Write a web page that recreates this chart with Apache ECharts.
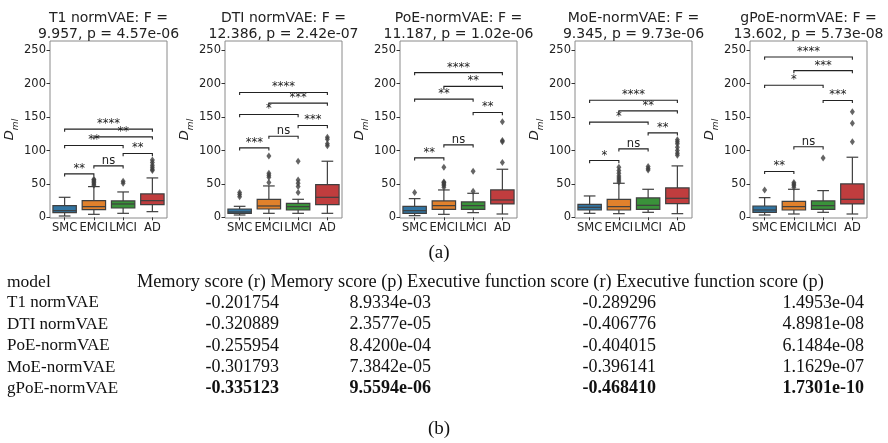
<!DOCTYPE html>
<html><head><meta charset="utf-8">
<script src="https://cdn.jsdelivr.net/npm/echarts@6/dist/echarts.min.js"></script>
<style>html,body{margin:0;padding:0;background:#fff}#c{width:888px;height:443px}</style>
</head><body><div id="c"></div>
<script>
// ---------- data ----------
const categories = ['SMC', 'EMCI', 'LMCI', 'AD'];
const yTicks = [0, 50, 100, 150, 200, 250];
const panelTitles = [
  'T1 normVAE: F =\n9.957, p = 4.57e-06',
  'DTI normVAE: F =\n12.386, p = 2.42e-07',
  'PoE-normVAE: F =\n11.187, p = 1.02e-06',
  'MoE-normVAE: F =\n9.345, p = 9.73e-06',
  'gPoE-normVAE: F =\n13.602, p = 5.73e-08'
];
// box stats per group: [whisker low, Q1, median, Q3, whisker high]
const boxT1   = [[2, 7, 10, 17.5, 30], [4.5, 11.5, 16, 25, 46], [6, 14, 20, 24.5, 38], [8.5, 19, 25, 35, 59]];
const boxDTI  = [[3.5, 6, 8, 12.5, 16.5], [6, 12.5, 17, 27, 47], [6, 11, 16, 21, 27], [6, 19, 30, 49, 84]];
const boxPoE  = [[2.5, 6, 10, 16.5, 28], [4.5, 12, 17.5, 24.5, 41], [7, 12, 17.5, 23, 36], [5, 20, 26, 41, 72]];
const boxMoE  = [[6, 11, 15, 19.5, 32], [5.5, 11, 16, 27, 51], [7.5, 12, 18, 29, 42], [5.5, 20.5, 28.5, 44, 77]];
const boxGPoE = [[3.5, 7.5, 11, 17, 29.5], [5, 11, 16, 24, 42], [7.5, 12, 17.5, 24.5, 40], [5, 20, 27, 50, 90]];
// outliers per group
const outT1   = [[], [48, 50, 52, 54, 56, 57], [51, 54], [70, 72, 75, 78, 82, 86]];
const outDTI  = [[31, 34, 37], [52, 60, 63, 66, 92], [37, 46, 51, 56, 84], [107, 110, 117, 120]];
const outPoE  = [[37], [45, 48, 50, 52, 53, 75], [39, 69], [82, 113, 115, 143]];
const outMoE  = [[], [53, 56, 59, 62, 66, 70, 75], [71, 73, 76], [93, 96, 100, 105, 110, 113, 116]];
const outGPoE = [[41], [45, 48, 50, 52], [89], [113, 141, 158]];
// significance brackets (pairs of group indices), heights and labels
const bracketPairs = [[0, 1], [1, 2], [2, 3], [0, 2], [1, 3], [0, 3]];
const brT1   = [65, 77, 95.6, 107.6, 120.5, 132];
const brDTI  = [104, 121.5, 137.5, 154, 171, 187];
const brPoE  = [89, 108.5, 157, 177, 196, 216.6];
const brMoE  = [85, 102.5, 126.5, 142.5, 159.4, 175.3];
const brGPoE = [68.7, 105.6, 175, 197.7, 219.6, 240];
const sigT1   = ['**', 'ns', '**', '**', '**', '****'];
const sigDTI  = ['***', 'ns', '***', '*', '***', '****'];
const sigPoE  = ['**', 'ns', '**', '**', '**', '****'];
const sigMoE  = ['*', 'ns', '**', '*', '**', '****'];
const sigGPoE = ['**', 'ns', '***', '*', '***', '****'];
// table (b)
const tableHeader = ['model', 'Memory score (r)', 'Memory score (p)', 'Executive function score (r)', 'Executive function score (p)'];
const models = ['T1 normVAE', 'DTI normVAE', 'PoE-normVAE', 'MoE-normVAE', 'gPoE-normVAE'];
const memR  = ['-0.201754', '-0.320889', '-0.255954', '-0.301793', '-0.335123'];
const memP  = ['8.9334e-03', '2.3577e-05', '8.4200e-04', '7.3842e-05', '9.5594e-06'];
const execR = ['-0.289296', '-0.406776', '-0.404015', '-0.396141', '-0.468410'];
const execP = ['1.4953e-04', '4.8981e-08', '6.1484e-08', '1.1629e-07', '1.7301e-10'];
const boldRow = 4;
const captions = ['(a)', '(b)'];

// ---------- chart ----------
const boxSets = [boxT1, boxDTI, boxPoE, boxMoE, boxGPoE];
const outSets = [outT1, outDTI, outPoE, outMoE, outGPoE];
const brSets = [brT1, brDTI, brPoE, brMoE, brGPoE];
const sigSets = [sigT1, sigDTI, sigPoE, sigMoE, sigGPoE];
const groupColors = ['#3274a1', '#e1812c', '#3a923a', '#c03d3e'];
const lineGray = '#3f3f3f';
const SANS = 'DejaVu Sans';
const SERIF = 'Liberation Serif';

const gridLefts = [50, 225, 400, 575, 750];
const gridW = 117, gridTop = 41, gridH = 177;

const grids = [], xAxes = [], yAxes = [], series = [], graphics = [];

function renderBox(params, api) {
  const c = api.value(0);
  const lo = api.value(1), q1 = api.value(2), md = api.value(3), q3 = api.value(4), hi = api.value(5);
  const band = api.size([1, 0])[0];
  const w = band * 0.8, cw = band * 0.4;
  const pLo = api.coord([c, lo]), pQ1 = api.coord([c, q1]), pMd = api.coord([c, md]),
        pQ3 = api.coord([c, q3]), pHi = api.coord([c, hi]);
  const x = pQ1[0];
  const st = { stroke: lineGray, lineWidth: 1.2, fill: null };
  return {
    type: 'group', children: [
      { type: 'line', shape: { x1: x, y1: pQ1[1], x2: x, y2: pLo[1] }, style: st },
      { type: 'line', shape: { x1: x, y1: pQ3[1], x2: x, y2: pHi[1] }, style: st },
      { type: 'line', shape: { x1: x - cw / 2, y1: pLo[1], x2: x + cw / 2, y2: pLo[1] }, style: st },
      { type: 'line', shape: { x1: x - cw / 2, y1: pHi[1], x2: x + cw / 2, y2: pHi[1] }, style: st },
      { type: 'rect', shape: { x: x - w / 2, y: pQ3[1], width: w, height: pQ1[1] - pQ3[1] },
        style: { fill: groupColors[c], stroke: lineGray, lineWidth: 1.2 } },
      { type: 'line', shape: { x1: x - w / 2, y1: pMd[1], x2: x + w / 2, y2: pMd[1] }, style: st }
    ]
  };
}

function makeBracketRenderer(labels) {
  return function (params, api) {
    const i = api.value(0), j = api.value(1), h = api.value(2), k = api.value(3);
    const p1 = api.coord([i, h]), p2 = api.coord([j, h]);
    const d = api.coord([i, h - 4])[1] - p1[1];
    return {
      type: 'group', children: [
        { type: 'polyline', shape: { points: [[p1[0], p1[1] + d], [p1[0], p1[1]], [p2[0], p2[1]], [p2[0], p2[1] + d]] },
          style: { stroke: '#222', lineWidth: 1.1, fill: null } },
        { type: 'text', style: { x: (p1[0] + p2[0]) / 2, y: p1[1] + 1, text: labels[k],
          align: 'center', verticalAlign: 'bottom', textAlign: 'center', textVerticalAlign: 'bottom',
          fontSize: 11.5, fontFamily: SANS, fill: '#222' } }
      ]
    };
  };
}

for (let p = 0; p < 5; p++) {
  grids.push({ left: gridLefts[p], top: gridTop, width: gridW, height: gridH,
    show: true, borderColor: '#8a8a8a', borderWidth: 1, backgroundColor: 'transparent' });
  xAxes.push({ type: 'category', gridIndex: p, data: categories, boundaryGap: true,
    axisLine: { show: false }, splitLine: { show: false },
    axisTick: { show: true, alignWithLabel: true, length: 3, lineStyle: { color: '#333' } },
    axisLabel: { interval: 0, hideOverlap: false, margin: 4, fontFamily: SANS, fontSize: 11.5, color: '#222' } });
  yAxes.push({ type: 'value', gridIndex: p, min: -1, max: 264,
    name: '{d|D}{s|ml}', nameLocation: 'middle', nameGap: 25, nameRotate: 90,
    nameTextStyle: { rich: {
      d: { fontFamily: SANS, fontStyle: 'italic', fontSize: 13, color: '#222', padding: [0, 0, 4, 0] },
      s: { fontFamily: SANS, fontStyle: 'italic', fontSize: 9, color: '#222', verticalAlign: 'bottom' } } },
    axisLine: { show: false }, splitLine: { show: false },
    axisTick: { show: true, length: 3.5, customValues: yTicks, lineStyle: { color: '#333' } },
    axisLabel: { customValues: yTicks, margin: 4, fontFamily: SANS, fontSize: 11.5, color: '#222' } });

  series.push({ type: 'custom', xAxisIndex: p, yAxisIndex: p, renderItem: renderBox,
    encode: { x: 0, y: [1, 2, 3, 4, 5] }, silent: true, z: 3,
    data: boxSets[p].map((b, c) => [c].concat(b)) });

  const outData = [];
  outSets[p].forEach((arr, c) => arr.forEach(v => outData.push([c, v])));
  series.push({ type: 'scatter', xAxisIndex: p, yAxisIndex: p, symbol: 'diamond', symbolSize: [5, 7],
    itemStyle: { color: lineGray }, data: outData, silent: true, z: 4 });

  series.push({ type: 'custom', xAxisIndex: p, yAxisIndex: p, renderItem: makeBracketRenderer(sigSets[p]),
    encode: { x: [0, 1], y: 2 }, silent: true, z: 5, clip: false,
    data: bracketPairs.map((pr, k) => [pr[0], pr[1], brSets[p][k], k]) });

  graphics.push({ type: 'text', style: { x: gridLefts[p] + gridW / 2, y: 10, text: panelTitles[p],
    align: 'center', textAlign: 'center', verticalAlign: 'top', textVerticalAlign: 'top',
    fontFamily: SANS, fontSize: 14, lineHeight: 16.5, fill: '#222' } });
}

// captions
graphics.push({ type: 'text', style: { x: 439, y: 253, text: captions[0], align: 'center', textAlign: 'center',
  verticalAlign: 'middle', textVerticalAlign: 'middle', fontFamily: SERIF, fontSize: 19, fill: '#111' } });
graphics.push({ type: 'text', style: { x: 439, y: 429, text: captions[1], align: 'center', textAlign: 'center',
  verticalAlign: 'middle', textVerticalAlign: 'middle', fontFamily: SERIF, fontSize: 19, fill: '#111' } });

// table
const headerY = 282;
const rowY0 = 303, rowStep = 21.4;
graphics.push({ type: 'text', style: { x: 7, y: headerY, text: tableHeader[0],
  align: 'left', textAlign: 'left', verticalAlign: 'middle', textVerticalAlign: 'middle',
  fontFamily: SERIF, fontSize: 17.5, fill: '#111' } });
graphics.push({ type: 'text', style: { x: 137, y: headerY, text: tableHeader.slice(1).join(' '),
  align: 'left', textAlign: 'left', verticalAlign: 'middle', textVerticalAlign: 'middle',
  fontFamily: SERIF, fontSize: 18.3, fill: '#111' } });
const colRightX = [null, 279, 431, 656, 864];
const cols = [models, memR, memP, execR, execP];
cols.forEach((col, ci) => col.forEach((v, r) => {
  const right = colRightX[ci] !== null;
  graphics.push({ type: 'text', style: { x: right ? colRightX[ci] : 7, y: rowY0 + r * rowStep, text: v,
    align: right ? 'right' : 'left', textAlign: right ? 'right' : 'left',
    verticalAlign: 'middle', textVerticalAlign: 'middle', fontFamily: SERIF, fontSize: right ? 18 : 17,
    fontWeight: (r === boldRow && ci > 0) ? 'bold' : 'normal', fill: '#111' } });
}));

const chart = echarts.init(document.getElementById('c'), null, { renderer: 'canvas' });
chart.setOption({
  animation: false,
  backgroundColor: '#fff',
  grid: grids, xAxis: xAxes, yAxis: yAxes, series: series, graphic: graphics
});
</script></body></html>
